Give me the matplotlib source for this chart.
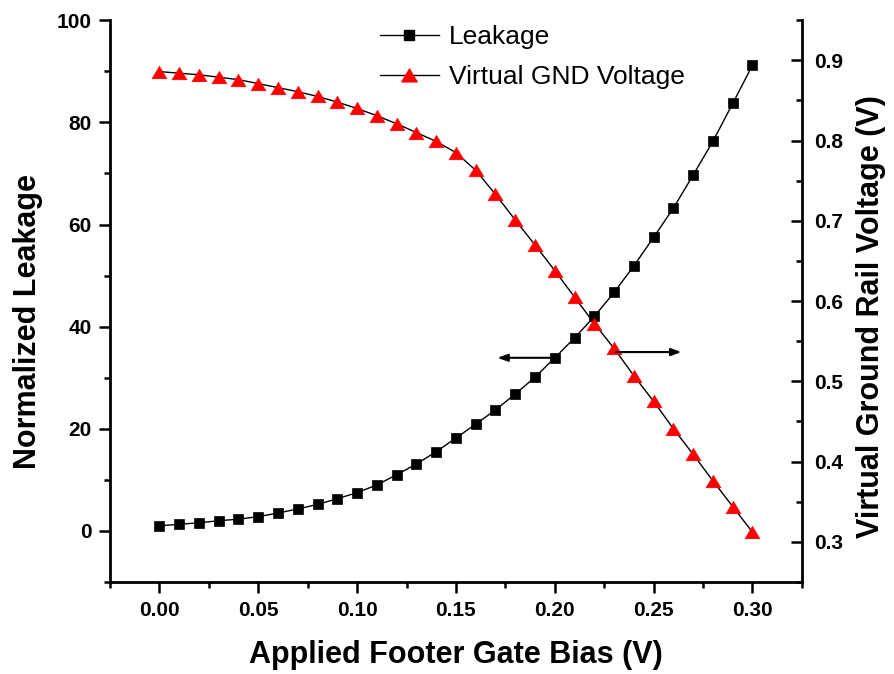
import numpy as np
import matplotlib
matplotlib.use("Agg")
import matplotlib.pyplot as plt
from matplotlib.path import Path
from matplotlib.lines import Line2D

plt.rcParams['font.family'] = ['Liberation Sans', 'DejaVu Sans']

# Footer gate bias sweep (V)
bias = [0.00, 0.01, 0.02, 0.03, 0.04, 0.05, 0.06, 0.07, 0.08, 0.09, 0.10,
        0.11, 0.12, 0.13, 0.14, 0.15, 0.16, 0.17, 0.18, 0.19, 0.20,
        0.21, 0.22, 0.23, 0.24, 0.25, 0.26, 0.27, 0.28, 0.29, 0.30]

# Normalized leakage (left axis)
leakage = [1.0, 1.3, 1.6, 2.0, 2.3, 2.8, 3.5, 4.3, 5.2, 6.3, 7.5,
           9.0, 11.0, 13.1, 15.5, 18.2, 20.9, 23.7, 26.8, 30.1, 33.9,
           37.8, 42.0, 46.7, 51.9, 57.5, 63.2, 69.7, 76.3, 83.7, 91.2]

# Virtual ground rail voltage (right axis, V)
vgnd = [0.886, 0.884, 0.882, 0.879, 0.876, 0.871, 0.866, 0.861, 0.855, 0.848, 0.840,
        0.831, 0.821, 0.810, 0.799, 0.785, 0.763, 0.733, 0.701, 0.670, 0.638,
        0.605, 0.572, 0.541, 0.507, 0.475, 0.441, 0.409, 0.376, 0.344, 0.312]

x_ticks = [0.00, 0.05, 0.10, 0.15, 0.20, 0.25, 0.30]
x_tick_labels = ["0.00", "0.05", "0.10", "0.15", "0.20", "0.25", "0.30"]
left_ticks = [0, 20, 40, 60, 80, 100]
right_ticks = [0.3, 0.4, 0.5, 0.6, 0.7, 0.8, 0.9]

# Arrows pointing each curve to its own axis
leak_arrow = dict(start=(0.20, 33.9), end=(0.171, 33.9))
volt_arrow = dict(start=(0.231, 0.5365), end=(0.264, 0.5365))

tri = Path([(-1.2, -1.0), (1.2, -1.0), (0.0, 1.0), (-1.2, -1.0)],
           [Path.MOVETO, Path.LINETO, Path.LINETO, Path.CLOSEPOLY])

fig = plt.figure(figsize=(8.94, 6.74), dpi=100)
ax = fig.add_axes([0.123, 0.1365, 0.774, 0.8335])
ax2 = ax.twinx()

ax.plot(bias, leakage, color='black', lw=1.0, marker='s', ms=7.3,
        mfc='black', mec='black', mew=0.5)
ax2.plot(bias, vgnd, color='black', lw=1.0, marker=tri, ms=11,
         mfc='red', mec='red', mew=0.3)

ax.set_xlim(-0.025, 0.325)
ax.set_ylim(-10, 100)
ax2.set_ylim(0.25, 0.95)

ax.set_xticks(x_ticks)
ax.set_xticklabels(x_tick_labels)
ax.set_xticks(np.arange(-0.025, 0.326, 0.025), minor=True)
ax.set_yticks(left_ticks)
ax.set_yticks(np.arange(-10, 101, 10), minor=True)
ax2.set_yticks(right_ticks)
ax2.set_yticks(np.arange(0.25, 0.951, 0.05), minor=True)

for a in (ax, ax2):
    a.spines['top'].set_visible(False)
    for s in a.spines.values():
        s.set_linewidth(2.0)

ax.spines['right'].set_visible(False)
ax2.spines['left'].set_visible(False)
ax2.spines['bottom'].set_visible(False)

ax.tick_params(axis='both', which='major', direction='out', length=8, width=1.8,
               labelsize=15, pad=5)
ax.tick_params(axis='both', which='minor', direction='out', length=4.5, width=1.8)
ax.tick_params(axis='y', right=False)
ax.tick_params(axis='x', pad=6)
ax2.tick_params(axis='y', which='major', direction='in', length=8, width=1.8,
                labelsize=15, pad=9)
ax2.tick_params(axis='y', which='minor', direction='in', length=4.5, width=1.8)

for lab in ax.get_xticklabels() + ax.get_yticklabels() + ax2.get_yticklabels():
    lab.set_fontweight('bold')

ax.set_xlabel("Applied Footer Gate Bias (V)", fontsize=22, fontweight='bold')
ax.set_ylabel("Normalized Leakage", fontsize=22, fontweight='bold')
ax2.set_ylabel("Virtual Ground Rail Voltage (V)", fontsize=22, fontweight='bold')
ax.xaxis.set_label_coords(0.5, -0.103)
ax.yaxis.set_label_coords(-0.097, 0.464)
ax2.yaxis.set_label_coords(1.078, 0.473)

arrow_props = dict(arrowstyle='-|>,head_length=0.6,head_width=0.22',
                   color='black', lw=1.5, shrinkA=0, shrinkB=0)
ax.annotate("", xy=leak_arrow['end'], xytext=leak_arrow['start'], arrowprops=arrow_props)
ax2.annotate("", xy=volt_arrow['end'], xytext=volt_arrow['start'], arrowprops=arrow_props)

handles = [
    Line2D([], [], color='black', lw=1.0, marker='s', ms=7.3, mfc='black', mec='black'),
    Line2D([], [], color='black', lw=1.0, marker=tri, ms=11, mfc='red', mec='red'),
]
leg = fig.legend(handles, ["Leakage", "Virtual GND Voltage"], loc='upper left',
                 bbox_to_anchor=(0.404, 0.99), frameon=False, fontsize=19,
                 handlelength=2.24, handletextpad=0.38, labelspacing=0.6,
                 borderpad=0.2)

fig.savefig("out.png", dpi=100, facecolor='white')
